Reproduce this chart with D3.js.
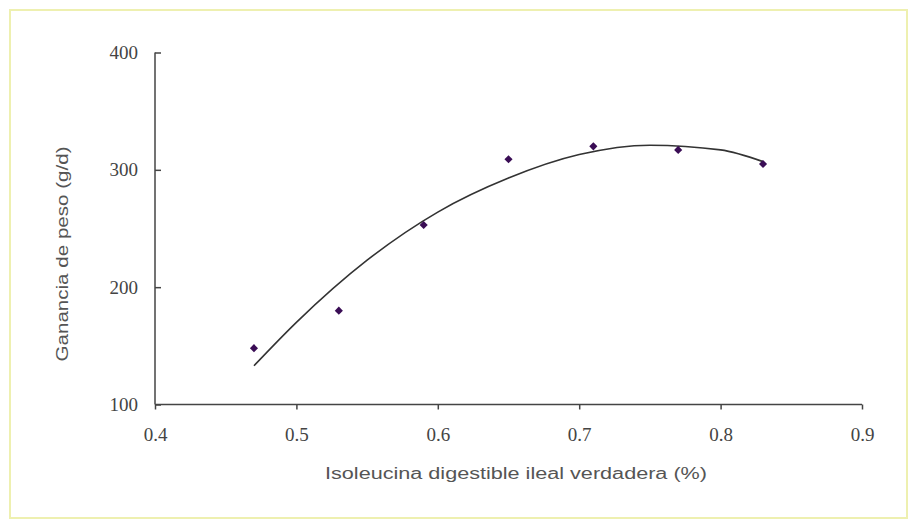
<!DOCTYPE html>
<html>
<head>
<meta charset="utf-8">
<script src="https://d3js.org/d3.v7.min.js"></script>
<style>
    body { margin: 0; background: #fff; }
    .tick-label { font-family: "Liberation Serif", "Times New Roman", serif; font-size: 19px; fill: #444; }
    .title { font-family: "Liberation Sans", Arial, sans-serif; fill: #555; }
</style>
</head>
<body>
<div id="chart"></div>
<script>

// Observed points
var isoleucina = [0.47, 0.53, 0.59, 0.65, 0.71, 0.77, 0.83];
var ganancia = [148, 180, 253, 309, 320, 317, 305];

// Fitted curve
var curveX = [0.47, 0.50, 0.55, 0.60, 0.65, 0.70, 0.75, 0.80, 0.83];
var curveY = [133, 170, 223, 264, 293, 313, 321, 317, 307];

var xTicks = [0.4, 0.5, 0.6, 0.7, 0.8, 0.9];
var yTicks = [100, 200, 300, 400];

var width = 909, height = 523;
var margin = {top: 52.5, right: 47, bottom: 118.5, left: 155};
var w = width - margin.left - margin.right;
var h = height - margin.top - margin.bottom;

var svg = d3.select("#chart")
    .append("svg")
    .attr("width", width)
    .attr("height", height);

// pale frame round the figure
svg.append("rect")
    .attr("x", 10)
    .attr("y", 10)
    .attr("width", 897)
    .attr("height", 508)
    .attr("fill", "none")
    .attr("stroke", "#eef0b0")
    .attr("stroke-width", 2);

var chart = svg.append("g")
    .attr("transform", "translate(" + margin.left + "," + margin.top + ")");

var x = d3.scaleLinear().domain([0.4, 0.9]).range([0, w]);
var y = d3.scaleLinear().domain([100, 400]).range([h, 0]);

// x axis, ticks pointing down
var xAxis = chart.append("g")
    .attr("transform", "translate(0," + h + ")")
    .call(d3.axisBottom(x).tickValues(xTicks).tickSize(5).tickPadding(18).tickFormat(d3.format(".1f")));

// y axis, ticks pointing inward
var yAxis = chart.append("g")
    .call(d3.axisRight(y).tickValues(yTicks).tickSize(6).tickFormat(d3.format("d")));

yAxis.selectAll("text")
    .attr("x", -17)
    .attr("text-anchor", "end");

[xAxis, yAxis].forEach(function(ax) {
    ax.selectAll("path, line")
        .attr("stroke", "#444")
        .attr("stroke-width", 1.5);
    ax.select(".domain").attr("d", ax === xAxis ? "M0,0H" + w : "M0," + h + "V0");
    ax.selectAll("text")
        .attr("class", "tick-label")
        .attr("font-family", null)
        .attr("font-size", null)
        .attr("fill", null);
});

// trend line
var line = d3.line()
    .x(function(d) { return x(d[0]); })
    .y(function(d) { return y(d[1]); })
    .curve(d3.curveMonotoneX);

chart.append("path")
    .datum(d3.zip(curveX, curveY))
    .attr("d", line)
    .attr("fill", "none")
    .attr("stroke", "#333")
    .attr("stroke-width", 1.6);

// markers (square diamonds)
chart.selectAll(".pt")
    .data(d3.zip(isoleucina, ganancia))
    .enter().append("path")
    .attr("class", "pt")
    .attr("d", d3.symbol().type(d3.symbolDiamond2).size(42))
    .attr("transform", function(d) { return "translate(" + x(d[0]) + "," + y(d[1]) + ")"; })
    .attr("fill", "#3a0d55");

// axis titles
svg.append("text")
    .attr("class", "title")
    .attr("x", 516)
    .attr("y", 479)
    .attr("text-anchor", "middle")
    .attr("font-size", "16px")
    .attr("textLength", 382)
    .attr("lengthAdjust", "spacingAndGlyphs")
    .text("Isoleucina digestible ileal verdadera (%)");

svg.append("text")
    .attr("class", "title")
    .attr("transform", "translate(68,254) rotate(-90)")
    .attr("text-anchor", "middle")
    .attr("font-size", "16px")
    .attr("textLength", 215)
    .attr("lengthAdjust", "spacingAndGlyphs")
    .text("Ganancia de peso (g/d)");

</script>
</body>
</html>
